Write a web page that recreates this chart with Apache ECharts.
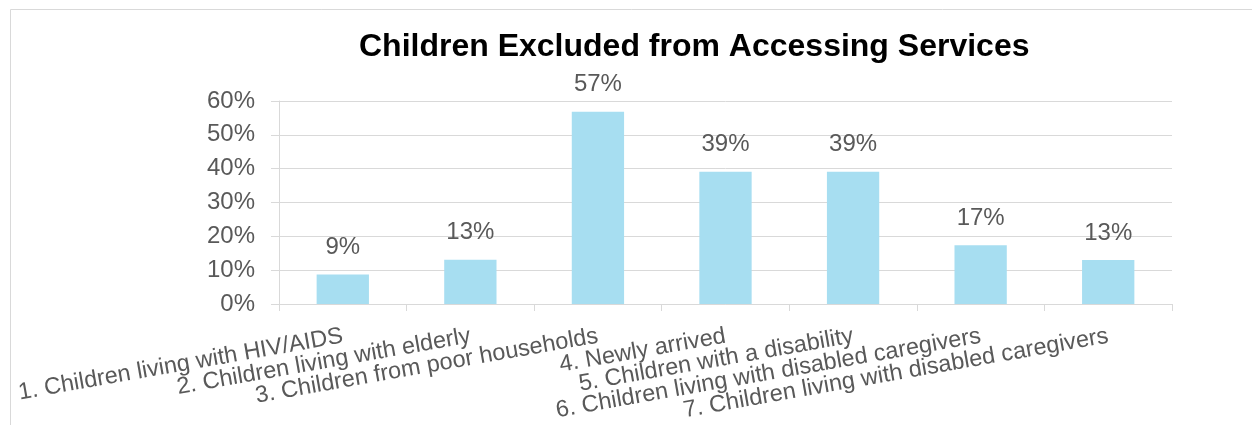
<!DOCTYPE html>
<html>
<head>
<meta charset="utf-8">
<script src="https://cdn.jsdelivr.net/npm/echarts@6/dist/echarts.min.js"></script>
<style>
  html, body { margin: 0; padding: 0; background: #fff; }
  #chart { width: 1252px; height: 425px; }
</style>
</head>
<body>
<div id="chart"></div>
<script>
// categories and values (percent)
const categories = [
  '1. Children living with HIV/AIDS',
  '2. Children living with elderly',
  '3. Children from poor households',
  '4. Newly arrived',
  '5. Children with a disability',
  '6. Children living with disabled caregivers',
  '7. Children living with disabled caregivers'
]
const excluded = [8.7, 13.1, 56.8, 39.1, 39.1, 17.4, 13.0]
const yTicks = { min: 0, max: 60, interval: 10 }

const font = '"Liberation Sans", Arial, sans-serif'
const grey = '#595959'
const lineGrey = '#d9d9d9'

const chart = echarts.init(document.getElementById('chart'))

const option = {
  animation: false,
  textStyle: { fontFamily: font },
  title: {
    text: 'Children Excluded from Accessing Services',
    left: 354,
    top: 26,
    textStyle: { fontFamily: font, fontSize: 32, fontWeight: 'bold', color: '#000' }
  },
  // outer chart-area frame
  graphic: [{
    type: 'rect',
    shape: { x: 10.5, y: 9.5, width: 1400, height: 600 },
    style: { fill: 'none', stroke: lineGrey, lineWidth: 1 },
    silent: true
  }],
  grid: { left: 279, right: 80, top: 101, bottom: 121, containLabel: false },
  xAxis: {
    type: 'category',
    data: categories,
    boundaryGap: true,
    axisLine: { show: true, lineStyle: { color: lineGrey, width: 1 } },
    axisTick: { show: true, length: 7, lineStyle: { color: lineGrey } },
    axisLabel: {
      interval: 0,
      rotate: 10,
      margin: 32,
      fontSize: 23.5,
      color: grey,
      fontFamily: font
    }
  },
  yAxis: {
    type: 'value',
    min: yTicks.min,
    max: yTicks.max,
    interval: yTicks.interval,
    axisLine: { show: true, lineStyle: { color: lineGrey, width: 1 } },
    axisTick: { show: true, inside: false, length: 8, lineStyle: { color: lineGrey } },
    splitLine: { show: true, lineStyle: { color: lineGrey, width: 1 } },
    axisLabel: {
      margin: 24,
      fontSize: 24,
      color: grey,
      fontFamily: font,
      formatter: v => v + '%'
    }
  },
  series: [{
    type: 'bar',
    data: excluded,
    barWidth: '41%',
    itemStyle: { color: '#a7def1' },
    label: {
      show: true,
      position: 'top',
      distance: 15,
      fontSize: 24,
      color: grey,
      fontFamily: font,
      formatter: p => Math.round(p.value) + '%'
    }
  }]
}

chart.setOption(option)
</script>
</body>
</html>
